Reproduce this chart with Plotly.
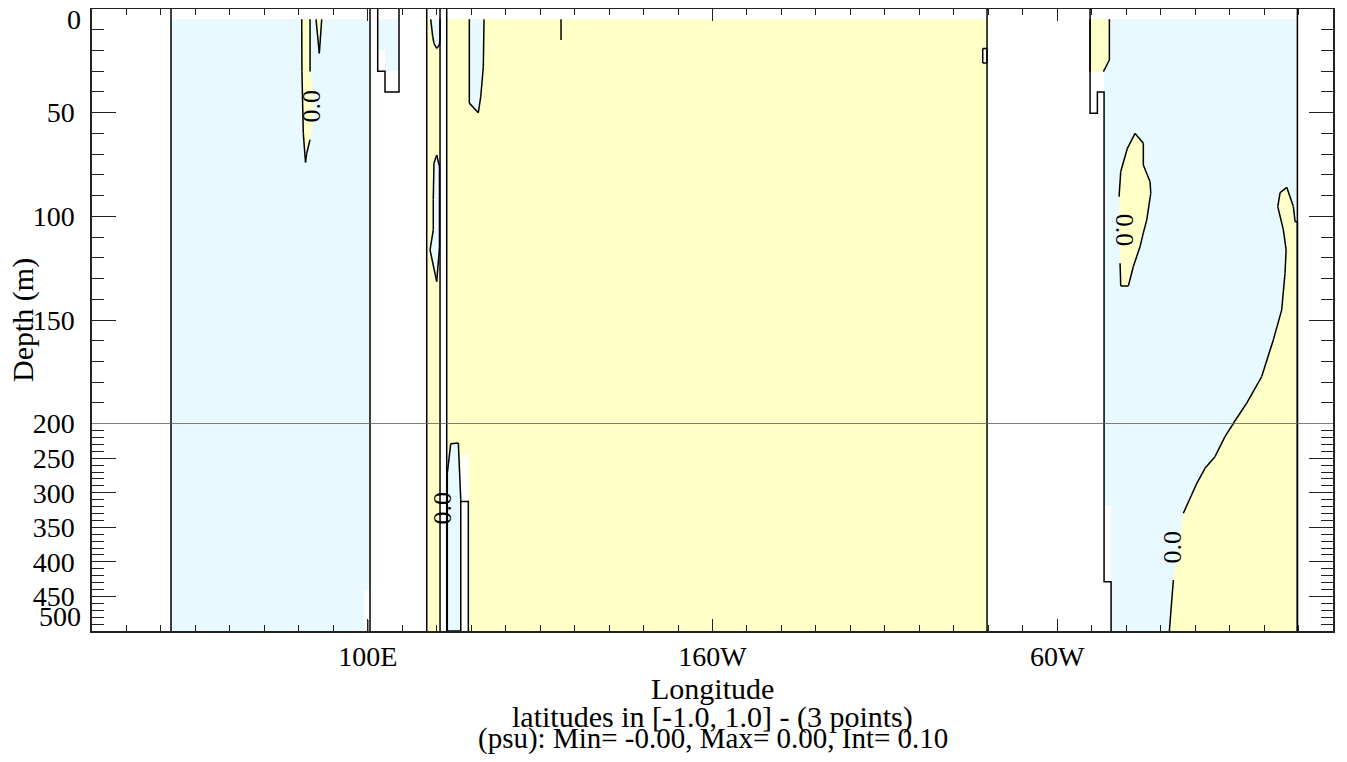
import plotly.graph_objects as go

# ---------------- data (longitude in degrees east, depth in m) ----------------
LON_RANGE = [20, 380]
DEPTH_SPLIT = 200
DEPTH_MAX = 500
FIRST_LEVEL = 5

X_TICK_VALS = [100, 200, 300]
X_TICK_TEXT = ["100E", "160W", "60W"]
Y_TOP_TICKS = [50, 100, 150, 200]
Y_BOT_TICKS = [250, 300, 350, 400, 450]

# ocean basins: sign of the field (-1 negative -> blue, +1 positive -> yellow, 0 -> no data)
INDIAN_LON = [42.9, 100.65, 100.65, 98.9, 98.9, 42.9]
INDIAN_DEP = [5, 5, 440, 440, 500, 500]
SUNDA_LON = [102.88, 109.06, 109.06, 105.0, 105.0, 102.88]
SUNDA_DEP = [5, 5, 30, 30, 19.8, 19.8]
STRIP_LON = [117.1, 120.96, 120.96, 117.1]
STRIP_DEP = [5, 5, 500, 500]
PACIFIC_LON = [122.9, 279.64, 279.64, 122.9]
PACIFIC_DEP = [5, 5, 500, 500]
ATLANTIC_LON = [309.53, 369.67, 369.67, 315.62, 315.62, 313.59, 313.59, 309.53]
ATLANTIC_DEP = [5, 5, 500, 500, 319, 319, 30.2, 30.2]

# zero-contour patches
IND_TONGUE_LON = [80.84, 80.9, 81.3, 81.94, 82.29, 83.25, 84.1, 84.1, 83.25, 83.25]
IND_TONGUE_DEP = [5, 30, 60, 74, 69.6, 63, 55, 40, 30.2, 5]
IND_WEDGE_LON = [84.99, 85.94, 86.64]
IND_WEDGE_DEP = [5, 21.4, 5]
STRIP_TOP_LON = [118.26, 118.84, 119.2, 120.0, 120.75, 120.96, 120.96]
STRIP_TOP_DEP = [5, 13.3, 16.6, 19, 17.4, 15, 5]
STRIP_LENS_LON = [120.0, 119.2, 119.0, 119.0, 118.06, 120.0, 120.8, 120.8]
STRIP_LENS_DEP = [70.4, 74.4, 92, 106.5, 116.2, 131.5, 115, 76]
PAC_TONGUE_LON = [129.46, 129.46, 132.07, 132.77, 133.52, 133.72]
PAC_TONGUE_DEP = [5, 45.4, 50, 42.3, 27.8, 5]
PAC_DEEP_LON = [123.07, 124.06, 126.27, 126.97, 126.97, 123.07]
PAC_DEEP_DEP = [272, 229, 228, 310, 500, 500]
ATL_TOP_LON = [309.53, 315.13, 315.13, 313.39, 309.53]
ATL_TOP_DEP = [5, 5, 24.6, 30.2, 30.2]
ATL_BLOB_LON = [322.58, 320.35, 318.43, 317.94, 318.1, 318.23, 318.43, 320.63, 322.08,
                324.03, 324.98, 325.97, 327.13, 326.93, 324.98, 324.98]
ATL_BLOB_DEP = [60, 67.2, 78.4, 90.5, 106, 122.6, 133.6, 133.6, 124.2,
                114.6, 108, 101.7, 88.9, 83.3, 75.2, 64.8]
ATL_EAST_LON = [369.67, 369.0, 368.5, 366.59, 364.65, 363.98, 365.6, 366.4, 366.08, 365.12,
                362.69, 359.32, 354.97, 351.1, 348.66, 345.76, 342.86, 340.5, 336.58,
                333.69, 332.53, 369.67]
ATL_EAST_DEP = [102.6, 102.6, 95.3, 86, 88.6, 95.3, 106.5, 116.2, 127.5, 145.1,
                159.6, 177.3, 190.1, 199.8, 218.8, 247.8, 264.6, 286.3, 329.7,
                426.2, 500, 500]

# areas without data inside the basins
PAC_GAP_LON = [126.97, 129.17, 129.17, 126.97]
PAC_GAP_DEP = [245, 245, 500, 500]
PAC_BOX_LON = [278.39, 279.64, 279.64, 278.39]
PAC_BOX_DEP = [19, 19, 26, 26]

# land-mask outlines
AFRICA_E_LON, AFRICA_E_DEP = [42.92, 42.92], [0, 500]
SUMATRA_LON, SUMATRA_DEP = [100.65, 100.65], [0, 500]
SUMATRA_STUB_LON, SUMATRA_STUB_DEP = [99.98, 99.98], [484, 500]
SUNDA_BOX_LON = [102.88, 102.88, 105.0, 105.0, 109.06, 109.06]
SUNDA_BOX_DEP = [0, 30, 30, 40, 40, 0]
STRIP_W_LON, STRIP_W_DEP = [117.1, 117.1], [0, 500]
STRIP_E_LON, STRIP_E_DEP = [120.96, 120.96], [0, 500]
PAC_W_LON, PAC_W_DEP = [122.9, 122.9], [0, 500]
PAC_STEP_LON = [126.97, 129.17, 129.17]
PAC_STEP_DEP = [312.6, 312.6, 500]
PAC_E_LON, PAC_E_DEP = [279.64, 279.64], [0, 500]
PAC_DASH_LON, PAC_DASH_DEP = [156.06, 156.06], [5, 15]
AMERICA_LON = [309.53, 309.53, 311.65, 311.65, 313.59, 313.59, 315.62, 315.62]
AMERICA_DEP = [0, 50.3, 50.3, 40, 40, 428.6, 428.6, 500]
AFRICA_W_LON, AFRICA_W_DEP = [369.67, 369.67], [0, 500]

# contour labels
LABEL_LON = [83.7, 121.7, 319.4, 333.5]
LABEL_DEP = [46.7, 322, 106.5, 378]
LABEL_ANGLE = [-90, -90, 90, -90]

# gaps in the drawn contour (label spaces / open edges): lon0, lon1, dep0, dep1
TONGUE_GAPS = [(83.0, 85.5, 32, 61)]
BLOB_GAPS = [(317, 319, 92, 121)]
EAST_GAPS = [(332, 337.5, 340, 420), (333, 370, 499, 501)]
ATL_TOP_GAPS = [(309, 313.3, 29, 31)]

BLUE = "rgb(232,250,255)"
YELLOW = "rgb(255,255,200)"
WHITE = "white"
FILL = {-1: BLUE, 1: YELLOW, 0: WHITE}

REGIONS = [
    (INDIAN_LON, INDIAN_DEP, -1, None),
    (SUNDA_LON, SUNDA_DEP, -1, None),
    (STRIP_LON, STRIP_DEP, 1, None),
    (PACIFIC_LON, PACIFIC_DEP, 1, None),
    (ATLANTIC_LON, ATLANTIC_DEP, -1, None),
    (IND_TONGUE_LON, IND_TONGUE_DEP, 1, TONGUE_GAPS),
    (IND_WEDGE_LON, IND_WEDGE_DEP, 1, []),
    (STRIP_TOP_LON, STRIP_TOP_DEP, -1, []),
    (STRIP_LENS_LON, STRIP_LENS_DEP, -1, []),
    (PAC_TONGUE_LON, PAC_TONGUE_DEP, -1, []),
    (PAC_DEEP_LON, PAC_DEEP_DEP, -1, []),
    (ATL_TOP_LON, ATL_TOP_DEP, 1, ATL_TOP_GAPS),
    (ATL_BLOB_LON, ATL_BLOB_DEP, 1, BLOB_GAPS),
    (ATL_EAST_LON, ATL_EAST_DEP, 1, EAST_GAPS),
    (PAC_GAP_LON, PAC_GAP_DEP, 0, None),
    (PAC_BOX_LON, PAC_BOX_DEP, 0, []),
]

LAND_LINES = [
    (AFRICA_E_LON, AFRICA_E_DEP), (SUMATRA_LON, SUMATRA_DEP),
    (SUMATRA_STUB_LON, SUMATRA_STUB_DEP), (SUNDA_BOX_LON, SUNDA_BOX_DEP),
    (STRIP_W_LON, STRIP_W_DEP), (STRIP_E_LON, STRIP_E_DEP), (PAC_W_LON, PAC_W_DEP),
    (PAC_STEP_LON, PAC_STEP_DEP), (PAC_E_LON, PAC_E_DEP), (PAC_DASH_LON, PAC_DASH_DEP),
    (AMERICA_LON, AMERICA_DEP), (AFRICA_W_LON, AFRICA_W_DEP),
]


def contour_segments(lon, dep, gaps):
    """Closed outline of a patch, minus the edge on the first level and label gaps."""
    pts = list(zip(lon, dep)) + [(lon[0], dep[0])]
    xs, ys = [], []
    for (x0, y0), (x1, y1) in zip(pts[:-1], pts[1:]):
        if y0 <= FIRST_LEVEL and y1 <= FIRST_LEVEL:
            continue
        mx, my = (x0 + x1) / 2, (y0 + y1) / 2
        if any(g[0] <= mx <= g[1] and g[2] <= my <= g[3] for g in gaps):
            continue
        xs += [x0, x1, None]
        ys += [y0, y1, None]
    return xs, ys


fig = go.Figure()
PANELS = [("x", "y"), ("x2", "y2")]

for xa, ya in PANELS:
    for lon, dep, sign, gaps in REGIONS:
        fig.add_trace(go.Scatter(x=lon, y=dep, xaxis=xa, yaxis=ya, mode="lines",
                                 fill="toself", fillcolor=FILL[sign],
                                 line=dict(width=0), hoverinfo="skip"))
    lx, ly = [], []
    for lon, dep in LAND_LINES:
        lx += list(lon) + [None]
        ly += list(dep) + [None]
    for lon, dep, sign, gaps in REGIONS:
        if gaps is None:
            continue
        sx, sy = contour_segments(lon, dep, gaps)
        lx += sx
        ly += sy
    fig.add_trace(go.Scatter(x=lx, y=ly, xaxis=xa, yaxis=ya, mode="lines",
                             line=dict(color="black", width=1.5), hoverinfo="skip",
                             connectgaps=False))

FONT = "Liberation Serif"
AX = dict(showline=True, linecolor="#222", linewidth=1.5, ticks="inside",
          tickcolor="#222", tickwidth=1.2, showgrid=False, zeroline=False, automargin=False)
MINOR_X = dict(ticks="inside", ticklen=6, tickmode="linear", tick0=0, dtick=10,
               tickcolor="#222", tickwidth=1.2, showgrid=False)
MINOR_Y = dict(ticks="inside", ticklen=12, tickmode="linear", tick0=0, dtick=10,
               tickcolor="#222", tickwidth=1.2, showgrid=False)

# the page body keeps an 8px margin, so the figure is sized to sit inside the window
FIG_W, FIG_H = 1331, 746
M_L, M_R, M_T, M_B = 84, 6, 1, 123
PLOT_W = FIG_W - M_L - M_R
PLOT_H = FIG_H - M_T - M_B

fig.update_layout(
    width=FIG_W, height=FIG_H,
    margin=dict(l=M_L, r=M_R, t=M_T, b=M_B, pad=0),
    plot_bgcolor="white", paper_bgcolor="white", showlegend=False,
    font=dict(family=FONT, size=28, color="black"),
    xaxis=dict(AX, anchor="y", side="top", domain=[0, 1], range=LON_RANGE,
               tickmode="array", tickvals=X_TICK_VALS, ticklen=12, showticklabels=False,
               minor=MINOR_X),
    xaxis2=dict(AX, anchor="y2", side="bottom", domain=[0, 1], range=LON_RANGE,
                tickmode="array", tickvals=X_TICK_VALS, ticktext=X_TICK_TEXT, ticklen=12,
                ticklabelstandoff=0, minor=MINOR_X),
    yaxis=dict(AX, anchor="x", domain=[1 / 3, 1], range=[DEPTH_SPLIT, 0], mirror="ticks",
               tickmode="array", tickvals=Y_TOP_TICKS, ticklen=24, ticklabelstandoff=10,
               minor=MINOR_Y),
    yaxis2=dict(AX, anchor="x2", domain=[0, 1 / 3], range=[DEPTH_MAX, DEPTH_SPLIT],
                mirror="ticks", tickmode="array", tickvals=Y_BOT_TICKS, ticklen=24,
                ticklabelstandoff=10, minor=MINOR_Y),
)

# panel divider at the depth where the vertical scale changes
fig.add_shape(type="line", xref="paper", x0=0, x1=1, yref="y", y0=DEPTH_SPLIT, y1=DEPTH_SPLIT,
              line=dict(color="#555", width=1.5), layer="above")

# edge tick labels kept inside the frame
fig.add_annotation(text="0", xref="paper", x=0, xanchor="right", xshift=-9,
                   yref="y", y=0, yanchor="middle", yshift=-10, showarrow=False,
                   font=dict(size=28))
fig.add_annotation(text="500", xref="paper", x=0, xanchor="right", xshift=-9,
                   yref="y2", y=DEPTH_MAX, yanchor="middle", yshift=14, showarrow=False,
                   font=dict(size=28))

# contour labels
for lon, dep, ang in zip(LABEL_LON, LABEL_DEP, LABEL_ANGLE):
    top = dep <= DEPTH_SPLIT
    fig.add_annotation(text="0.0", x=lon, y=dep, xref="x" if top else "x2",
                       yref="y" if top else "y2", textangle=ang, showarrow=False,
                       xanchor="center", yanchor="middle", font=dict(size=26))

# titles
fig.add_annotation(text="Depth (m)", xref="paper", yref="paper", x=-69 / PLOT_W, y=0.5,
                   xanchor="center", yanchor="middle", textangle=-90, showarrow=False,
                   font=dict(size=30))
fig.add_annotation(text="Longitude", xref="paper", yref="paper", x=0.5, y=-57 / PLOT_H,
                   xanchor="center", yanchor="middle", showarrow=False, font=dict(size=30))
fig.add_annotation(text="latitudes in [-1.0, 1.0] - (3 points)", xref="paper", yref="paper",
                   x=0.5, y=-86 / PLOT_H, xanchor="center", yanchor="middle",
                   showarrow=False, font=dict(size=30))
fig.add_annotation(text="(psu): Min= -0.00, Max= 0.00, Int= 0.10", xref="paper",
                   yref="paper", x=0.5, y=-107 / PLOT_H, xanchor="center", yanchor="middle",
                   showarrow=False, font=dict(size=29))

fig.write_html("out.html")
